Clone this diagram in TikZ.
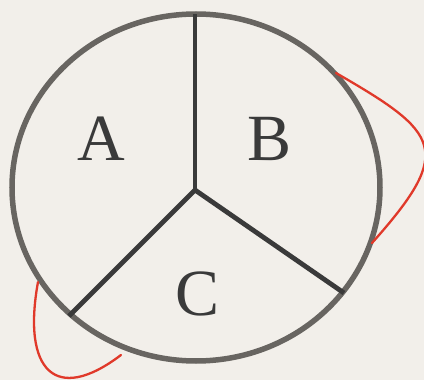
\documentclass[tikz,border=0pt]{standalone}
\usepackage{fontspec}
\setmainfont{Liberation Serif}
\definecolor{bgc}{HTML}{F2EFEA}
\definecolor{ringc}{HTML}{686561}
\definecolor{spokec}{HTML}{3A3A3A}
\definecolor{redc}{HTML}{E0392A}
\tikzset{
  ring/.style={draw=ringc, line width=5.5pt},
  spoke/.style={draw=spokec, line width=4.8pt},
  loopline/.style={draw=redc, line width=2.3pt, line cap=round},
  letter/.style={anchor=base, text=spokec, inner sep=0pt, font=\fontsize{66}{66}\selectfont}
}
\begin{document}
\begin{tikzpicture}[x=1pt, y=-1pt]
\fill[bgc] (0,0) rectangle (424,380);
\useasboundingbox (0,0) rectangle (424,380);
% ring
\draw[ring] (196,187.5) ellipse [x radius=184, y radius=173.5];
% spokes
\coordinate (hub) at (195,190);
\coordinate (top) at (195,14);
\coordinate (sw) at (69,316);
\coordinate (se) at (344,293);
\draw[spoke] (top) -- (hub);
\draw[spoke, line join=miter] (sw) -- (hub) -- (se);
% labels
\node[letter] (A) at (101,160) {A};
\node[letter] (B) at (270,160) {B};
\node[letter] (C) at (197.5,315) {C};
% red loops
\coordinate (r1) at (336,73);
\coordinate (r2) at (372,243);
\draw[loopline] (r1) .. controls (440,133) and (455,150) .. (r2);
\coordinate (l1) at (38,282);
\coordinate (l2) at (121,355);
\draw[loopline] (l1) .. controls (22,370) and (55,405) .. (l2);
\end{tikzpicture}
\end{document}
